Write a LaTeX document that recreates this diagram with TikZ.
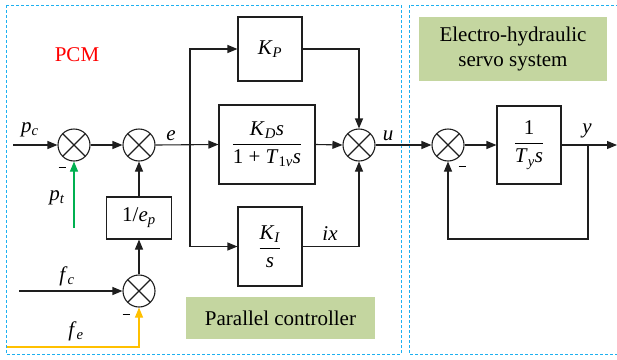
\documentclass[tikz,border=0pt]{standalone}
\usepackage{fontspec}
\setmainfont{Liberation Serif}
\usetikzlibrary{arrows.meta}
\definecolor{dashblue}{RGB}{30,176,240}
\definecolor{boxgreen}{RGB}{196,214,160}
\definecolor{pgreen}{RGB}{0,176,80}
\definecolor{fyellow}{RGB}{255,192,0}
\definecolor{lcol}{RGB}{30,30,30}
\newcommand{\mi}[1]{\textit{#1}}
\newcommand{\sbs}[1]{\textsubscript{\textit{#1}}}
\newcommand{\minussign}{\rule{7pt}{1pt}}
\begin{document}
\begin{tikzpicture}[x=1pt,y=-1pt,
  font=\fontsize{21}{25}\selectfont,
  line/.style={draw=lcol, line width=1.1pt},
  arr/.style={line, -{Triangle[length=10pt,width=8pt]}},
  sumnode/.style={circle, draw=lcol, line width=1.1pt, minimum size=32pt, inner sep=0pt,
    path picture={\draw[line width=1.1pt, lcol] (path picture bounding box.north east)--(path picture bounding box.south west) (path picture bounding box.north west)--(path picture bounding box.south east);}},
  blk/.style={draw=lcol, line width=1.1pt, inner sep=0pt},
  region/.style={draw=dashblue, line width=1pt, dash pattern=on 3pt off 2pt},
  tag/.style={fill=boxgreen, inner sep=0pt, align=center},
  lbl/.style={inner sep=0pt, anchor=base}
]
\useasboundingbox (0,0) rectangle (617,359);

% regions
\draw[region] (6,5) rectangle (401,354);
\draw[region] (409,5) rectangle (630,354);

% tags
\node[tag, minimum width=188pt, minimum height=64pt] (ehs) at (513,49) {Electro-hydraulic\\servo system};
\node[tag, minimum width=189pt, minimum height=42pt] (pcl) at (280.5,318) {Parallel controller};
\node[inner sep=0pt, text={rgb,255:red,255;green,0;blue,0}] (pcm) at (77,55) {PCM};

% summing junctions
\node[sumnode] (s1) at (74,145) {};
\node[sumnode] (s2) at (139,145) {};
\node[sumnode] (s3) at (359,145) {};
\node[sumnode] (s4) at (448,145) {};
\node[sumnode] (s5) at (139,291) {};

% blocks
\node[blk, minimum width=64pt, minimum height=64pt] (kp) at (270,49) {\mi{K}\sbs{P}};
\node[blk, minimum width=96pt, minimum height=79pt] (kd) at (267,144.5)
  {$\displaystyle\frac{\hbox{\mi{K}\sbs{D}\mi{s}}}{\hbox{1 + \mi{T}\textsubscript{1\textit{v}}\mi{s}}}$};
\node[blk, minimum width=64pt, minimum height=79pt] (ki) at (270,246.5)
  {$\displaystyle\frac{\hbox{\mi{K}\sbs{I}}}{\hbox{\mi{s}}}$};
\node[blk, minimum width=65pt, minimum height=42pt] (ep) at (139,218) {1/\mi{e}\sbs{p}};
\node[blk, minimum width=64pt, minimum height=78pt] (ty) at (529,145)
  {$\displaystyle\frac{\hbox{1}}{\hbox{\mi{T}\sbs{y}\mi{s}}}$};

% free ends
\coordinate (pin) at (13,145);
\coordinate (ptin) at (74,228);
\coordinate (fcin) at (19,291);
\coordinate (fein) at (7,347);
\coordinate (fecorner) at (139,347);
\coordinate (sp) at (190,145);
\coordinate (yo) at (588,145);
\coordinate (fb) at (588,239);
\coordinate (out) at (617,145);

% connectors
\draw[arr] (pin) -- (s1.west);
\draw[arr, draw=pgreen] (ptin) -- (s1.south);
\draw[arr] (s1.east) -- (s2.west);
\draw[arr] (ep.north) -- (s2.south);
\draw[arr] (s5.north) -- (ep.south);
\draw[arr] (fcin) -- (s5.west);
\draw[arr, draw=fyellow] (fein) -- (fecorner) -- (s5.south);
\draw[arr] (s2.east) -- (kd.west);
\draw[arr] (sp) |- (kp.west);
\draw[arr] (sp) |- (ki.west);
\draw[arr] (kp.east) -| (s3.north);
\draw[arr] (kd.east) -- (s3.west);
\draw[arr] (ki.east) -| (s3.south);
\draw[arr] (s3.east) -- (s4.west);
\draw[arr] (s4.east) -- (ty.west);
\draw[arr] (ty.east) -- (out);
\draw[arr] (yo) -- (fb) -| (s4.south);

% labels
\node[lbl] (lpc) at (30,132) {\mi{p}\sbs{c}};
\node[lbl] (lpt) at (57,200) {\mi{p}\sbs{t}};
\node[lbl] (lfc) at (67,281) {\mi{f}\sbs{c}};
\node[lbl] (lfe) at (76,336) {\mi{f}\sbs{e}};
\node[lbl] (le) at (171,140) {\mi{e}};
\node[lbl] (lu) at (388,140) {\mi{u}};
\node[lbl] (ly) at (587,133) {\mi{y}};
\node[lbl] (lix) at (330,240) {\mi{ix}};
\node[inner sep=0pt] (m1) at (62,167) {\minussign};
\node[inner sep=0pt] (m5) at (126,314) {\minussign};
\node[inner sep=0pt] (m4) at (462,166) {\minussign};
\end{tikzpicture}
\end{document}
